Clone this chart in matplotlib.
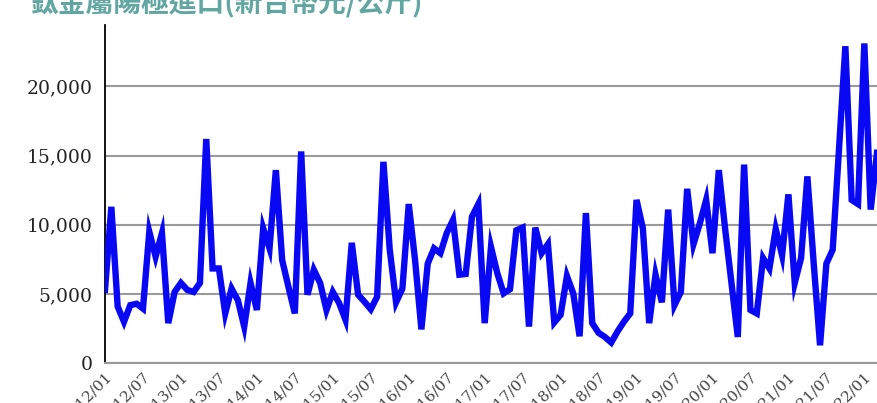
import matplotlib
matplotlib.use("Agg")
import matplotlib.pyplot as plt

title = "鈦金屬陽極進口(新台幣元/公斤)"

values = [
    5300, 11300, 4100, 3000, 4200, 4300, 3950, 9500, 7700, 9400,
    2900, 5150, 5800, 5300, 5150, 5800, 16200, 6850, 6850, 3600,
    5400, 4550, 2650, 5800, 3850, 9750, 8300, 13950, 7450, 5500,
    3600, 15300, 4950, 6750, 5800, 3850, 5150, 4350, 3150, 8700,
    4950, 4450, 3900, 4800, 14550, 8200, 4400, 5400, 11500, 7450,
    2450, 7200, 8300, 7950, 9400, 10350, 6400, 6450, 10600, 11500,
    2900, 8400, 6500, 5050, 5350, 9600, 9800, 2650, 9800, 7950,
    8600, 2950, 3500, 6300, 5050, 1950, 10850, 2900, 2200, 1900,
    1500, 2300, 3000, 3600, 11800, 9750, 2900, 6400, 4400, 11100,
    4200, 5150, 12600, 8600, 10100, 11800, 7950, 13950, 9700, 5800,
    1900, 14350, 3850, 3600, 7600, 6850, 9700, 7800, 12200, 5800,
    7600, 13500, 7200, 1300, 7200, 8200, 15500, 22900, 11800, 11500,
    23100, 11100, 15200,
]

tick_labels = ["2012/01", "2012/07", "2013/01", "2013/07", "2014/01", "2014/07",
               "2015/01", "2015/07", "2016/01", "2016/07", "2017/01", "2017/07",
               "2018/01", "2018/07", "2019/01", "2019/07", "2020/01", "2020/07",
               "2021/01", "2021/07", "2022/01"]
yticks = [0, 5000, 10000, 15000, 20000]

W, H = 877, 403
fig = plt.figure(figsize=(W / 100, H / 100), dpi=100)
ax = fig.add_axes([105 / W, (H - 363.3) / H, 1 - 105 / W, (363.3 - 25) / H])

x = list(range(len(values)))
ax.plot(x, values, color="#0808f5", linewidth=4.6, solid_joinstyle="miter", zorder=3)

ax.set_xlim(0, len(values) - 1)
ax.set_ylim(0, 24430)
ax.set_yticks(yticks)
ax.set_yticklabels([f"{v:,}" for v in yticks], family="DejaVu Serif", fontsize=13.5, color="#222222")
ax.set_xticks([i * 6 for i in range(len(tick_labels))])
ax.set_xticklabels(tick_labels, rotation=45, ha="right", rotation_mode="anchor",
                   family="DejaVu Serif", fontsize=11, color="#444444")
ax.tick_params(axis="both", length=0)
ax.tick_params(axis="y", pad=9)
ax.tick_params(axis="x", pad=4)

ax.yaxis.grid(True, color="#9a9a9a", linewidth=1.5)
ax.set_axisbelow(True)
for s in ["top", "right"]:
    ax.spines[s].set_visible(False)
ax.spines["bottom"].set_color("#9a9a9a")
ax.spines["bottom"].set_linewidth(1.5)
ax.spines["left"].set_color("black")
ax.spines["left"].set_linewidth(1.3)

fig.text(30 / W, 1 - 11 / H, title, family=["Noto Sans CJK TC", "DejaVu Sans"],
         fontsize=20, fontweight="bold", color="#62a6a2", ha="left", va="baseline")

fig.savefig("out.png", dpi=100)
